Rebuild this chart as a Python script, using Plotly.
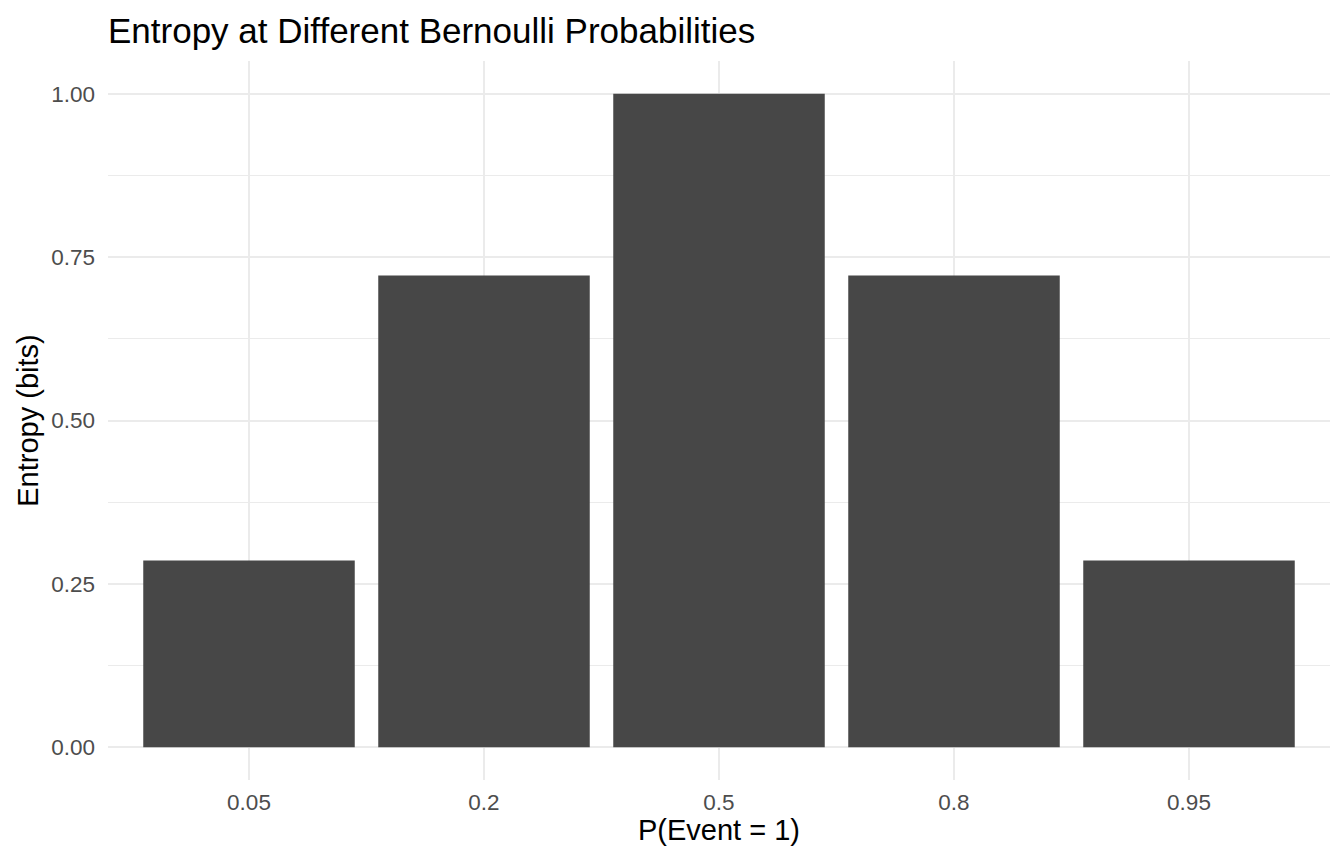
import plotly.graph_objects as go

# Bernoulli probabilities and their entropy (bits)
PROBS = ['0.05', '0.2', '0.5', '0.8', '0.95']
ENTROPY = [0.286, 0.722, 1.000, 0.722, 0.286]
Y_TICKS = [0.0, 0.25, 0.5, 0.75, 1.0]
Y_TICK_TEXT = ['0.00', '0.25', '0.50', '0.75', '1.00']

BAR = '#474747'
GRID = '#EBEBEB'
TICK = '#4D4D4D'
FONT = 'Liberation Sans, Arial, Helvetica, sans-serif'

fig = go.Figure(go.Bar(
    x=PROBS, y=ENTROPY,
    marker=dict(color=BAR, line=dict(width=0)),
    hovertemplate='P = %{x}<br>Entropy: %{y:.3f} bits<extra></extra>',
))

fig.update_xaxes(
    type='category', range=[-0.6, 4.6],
    showgrid=True, gridcolor=GRID, gridwidth=2,
    zeroline=False, showline=False, ticks='',
    tickfont=dict(size=22.5, color=TICK), ticklabelstandoff=6,
    title=dict(text='P(Event = 1)', font=dict(size=29, color='black'), standoff=4),
)
fig.update_yaxes(
    range=[-0.05, 1.05],
    tickvals=Y_TICKS, ticktext=Y_TICK_TEXT,
    showgrid=True, gridcolor=GRID, gridwidth=2,
    minor=dict(tickvals=[0.125, 0.375, 0.625, 0.875], showgrid=True,
               gridcolor=GRID, gridwidth=1),
    zeroline=False, showline=False, ticks='',
    tickfont=dict(size=22.5, color=TICK), ticklabelstandoff=12,
    title=dict(text='Entropy (bits)', font=dict(size=29, color='black'), standoff=4),
)

# page body adds an 8px margin, so the figure is 16px smaller and margins shift
fig.update_layout(
    width=1328, height=848,
    margin=dict(l=100, r=6, t=53, b=76),
    paper_bgcolor='white', plot_bgcolor='white',
    font=dict(family=FONT, color='black'),
    bargap=0.1,
    showlegend=False,
    title=dict(text='Entropy at Different Bernoulli Probabilities',
               font=dict(size=35, color='black'),
               xref='paper', x=0, xanchor='left',
               yref='container', y=1 - 23 / 848, yanchor='middle'),
)

fig.write_html('out.html')
